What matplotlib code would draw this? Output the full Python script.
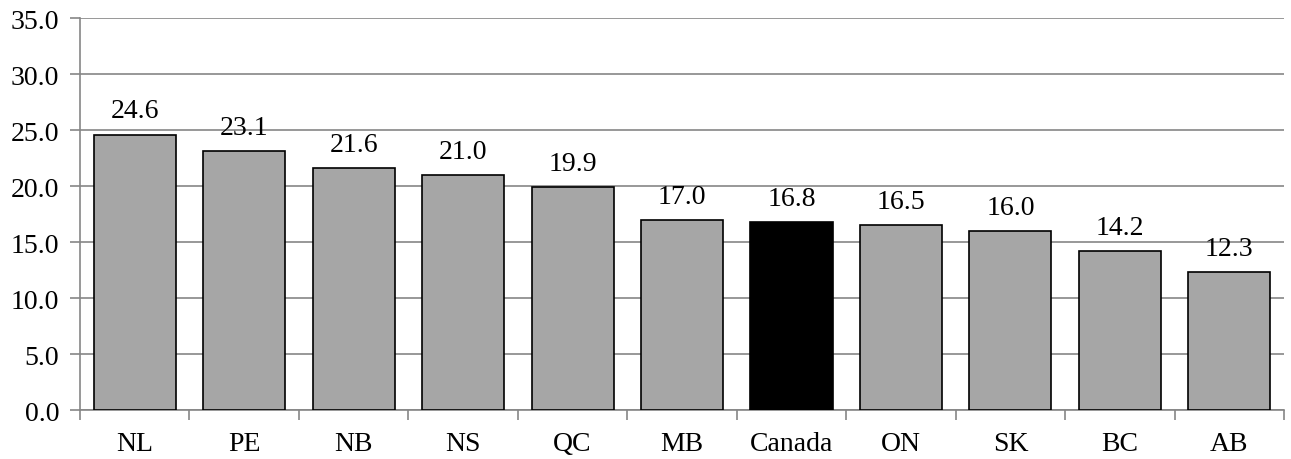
import matplotlib
matplotlib.use("Agg")
import matplotlib.pyplot as plt
from matplotlib.ticker import FixedLocator

plt.rcParams['font.family'] = ['Liberation Serif', 'DejaVu Serif']

names = ['NL', 'PE', 'NB', 'NS', 'QC', 'MB', 'Canada', 'ON', 'SK', 'BC', 'AB']
values = [24.6, 23.1, 21.6, 21.0, 19.9, 17.0, 16.8, 16.5, 16.0, 14.2, 12.3]
colors = ['#000000' if n == 'Canada' else '#A6A6A6' for n in names]

fig = plt.figure(figsize=(12.91, 4.60), dpi=100)
ax = fig.add_axes([0.062, 0.1065, 0.9326, 0.852])

x = range(len(names))
ax.bar(x, values, width=0.75, color=colors, edgecolor='black', linewidth=1.2, zorder=3)
for i, v in zip(x, values):
    ax.annotate('%.1f' % v, (i, v), xytext=(0, 8), textcoords='offset points',
                ha='center', va='bottom', fontsize=20, zorder=4)

ax.set_ylim(0, 35)
ax.set_xlim(-0.5, len(names) - 0.5)
ax.set_yticks([0, 5, 10, 15, 20, 25, 30, 35])
ax.set_yticklabels(['%.1f' % t for t in ax.get_yticks()], fontsize=20)
ax.set_xticks(list(x))
ax.set_xticklabels(names, fontsize=20)
ax.xaxis.set_minor_locator(FixedLocator([i - 0.5 for i in range(len(names) + 1)]))
ax.tick_params(axis='x', which='major', length=0, pad=15)
ax.tick_params(axis='x', which='minor', length=7, color='#868686', width=1.2)
ax.tick_params(axis='y', length=7, color='#868686', width=1.2, pad=8)
ax.grid(axis='y', color='#868686', linewidth=1.2, zorder=0)
for s in ['top', 'right']:
    ax.spines[s].set_visible(False)
for s in ['left', 'bottom']:
    ax.spines[s].set_color('#868686')
    ax.spines[s].set_linewidth(1.2)

fig.savefig('out.png', dpi=100)
